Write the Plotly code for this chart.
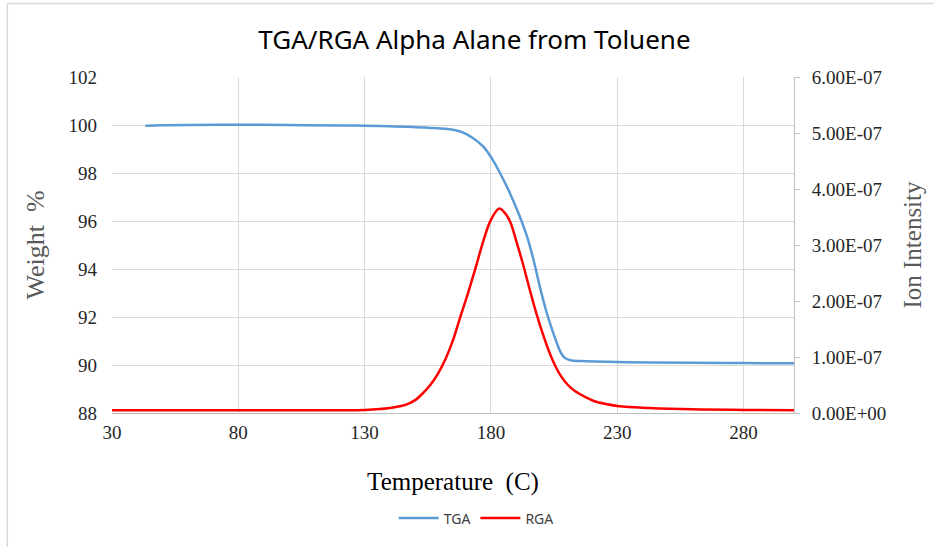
import plotly.graph_objects as go

# ---- data ----
tga_temp = [43.2, 50, 60, 80, 100, 120, 130, 140, 150, 156, 162, 166, 169, 173, 177,
            180, 183.5, 187.5, 191.4, 194, 196.6, 199.3, 201.9, 204.5, 206, 207.2, 208.5,
            209.8, 212, 217.6, 230, 242.6, 260, 280, 300]
tga_weight = [99.97, 99.99, 100.0, 100.01, 100.0, 99.98, 99.97, 99.95, 99.91, 99.88, 99.84,
              99.78, 99.68, 99.45, 99.1, 98.67, 98.02, 97.17, 96.2, 95.45, 94.5, 93.3, 92.25,
              91.39, 90.95, 90.62, 90.38, 90.26, 90.19, 90.16, 90.12, 90.1, 90.09, 90.08, 90.07]

rga_temp = [30, 60, 90, 120, 130, 136, 140, 144, 147, 150, 153, 156, 159, 162, 165, 168,
            171, 174, 177, 180, 183.3, 185, 187.5, 190, 192.7, 195.4, 198, 200.5, 203,
            205.5, 208, 210.5, 213, 217.6, 221, 225.5, 230.8, 242.6, 260, 280, 300]
rga_intensity = [0.05e-7, 0.05e-7, 0.05e-7, 0.05e-7, 0.055e-7, 0.07e-7, 0.09e-7, 0.12e-7,
                 0.16e-7, 0.23e-7, 0.35e-7, 0.5e-7, 0.7e-7, 0.96e-7, 1.3e-7, 1.73e-7,
                 2.15e-7, 2.6e-7, 3.07e-7, 3.45e-7, 3.65e-7, 3.6e-7, 3.43e-7, 3.08e-7,
                 2.66e-7, 2.2e-7, 1.78e-7, 1.42e-7, 1.1e-7, 0.84e-7, 0.64e-7, 0.5e-7,
                 0.4e-7, 0.28e-7, 0.21e-7, 0.16e-7, 0.12e-7, 0.09e-7, 0.065e-7, 0.055e-7, 0.05e-7]

x_ticks = [30, 80, 130, 180, 230, 280]
left_ticks = [88, 90, 92, 94, 96, 98, 100, 102]
right_ticks = [0, 1e-7, 2e-7, 3e-7, 4e-7, 5e-7, 6e-7]
right_labels = [f"{v:.2E}" for v in right_ticks]

SERIF = "Liberation Serif, Times New Roman, serif"
GRID = "#d9d9d9"

fig = go.Figure()
fig.add_trace(go.Scatter(x=tga_temp, y=tga_weight, name="TGA", mode="lines",
                         line=dict(color="#5B9BD5", width=2.5, shape="spline", smoothing=1.0),
                         yaxis="y"))
fig.add_trace(go.Scatter(x=rga_temp, y=rga_intensity, name="RGA", mode="lines",
                         line=dict(color="#FF0000", width=2.5, shape="spline", smoothing=1.0),
                         yaxis="y2"))

fig.update_layout(
    width=934, height=547,
    margin=dict(l=112, r=138, t=77, b=132),
    paper_bgcolor="white", plot_bgcolor="white",
    title=dict(text="TGA/RGA Alpha Alane from Toluene", x=0.508, xanchor="center",
               y=0.927, yanchor="middle",
               font=dict(family="Noto Sans, sans-serif", size=26, color="#000000")),
    xaxis=dict(range=[30, 300], tickvals=x_ticks, showgrid=True, gridcolor=GRID, gridwidth=1,
               showline=True, linecolor="#bfbfbf", linewidth=1, zeroline=False,
               ticks="", ticklabelstandoff=2,
               tickfont=dict(family=SERIF, size=19, color="#262626"),
               title=dict(text="Temperature\u00a0 (C)", standoff=30,
                          font=dict(family=SERIF, size=25, color="#000000"))),
    yaxis=dict(range=[88, 102], tickvals=left_ticks, showgrid=True, gridcolor=GRID, gridwidth=1,
               showline=False, zeroline=False, ticks="", ticklabelstandoff=14,
               tickfont=dict(family=SERIF, size=19, color="#262626"),
               title=dict(text="Weight\u00a0 %", standoff=16,
                          font=dict(family=SERIF, size=26, color="#595959"))),
    yaxis2=dict(range=[0, 6e-7], overlaying="y", side="right", tickvals=right_ticks,
                ticktext=right_labels, showgrid=False, zeroline=False,
                showline=True, linecolor="#bfbfbf", linewidth=1,
                ticks="outside", ticklen=5, tickcolor="#bfbfbf", ticklabelstandoff=8,
                tickfont=dict(family=SERIF, size=19, color="#262626"),
                title=dict(text="Ion Intensity", standoff=18,
                           font=dict(family=SERIF, size=25, color="#595959"))),
    legend=dict(orientation="h", x=0.534, xanchor="center", y=-0.314, yanchor="middle",
                font=dict(family="Noto Sans, sans-serif", size=14, color="#404040"),
                itemwidth=40, bgcolor="rgba(0,0,0,0)"),
    showlegend=True,
)

# chart-area frame (top and left edges visible in the reference)
fig.add_shape(type="line", xref="paper", yref="paper", x0=-0.1535, x1=-0.1535, y0=-1, y1=1.219,
              line=dict(color=GRID, width=1.5))
fig.add_shape(type="line", xref="paper", yref="paper", x0=-0.1535, x1=2, y0=1.219, y1=1.219,
              line=dict(color=GRID, width=1.5))

fig.write_html("out.html")
